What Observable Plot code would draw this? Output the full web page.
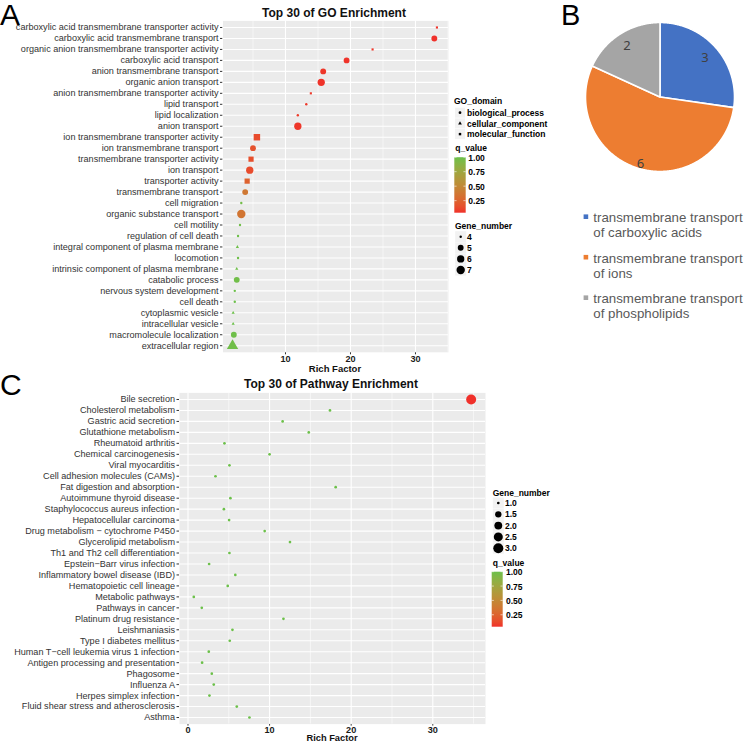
<!DOCTYPE html>
<html><head><meta charset="utf-8">
<script src="https://cdn.jsdelivr.net/npm/d3@7"></script>
<script src="https://cdn.jsdelivr.net/npm/@observablehq/plot@0.6"></script>
<style>
html,body{margin:0;padding:0;background:#fff;}
#root{position:relative;width:746px;height:743px;overflow:hidden;font-family:"Liberation Sans",Arial,Helvetica,sans-serif;}
#root > svg{position:absolute;}
.gg g[aria-label^="x-axis"] text{font-weight:bold;fill:#1a1a1a;}
.gg g[aria-label^="y-axis"] text{fill:#333;}
</style></head><body><div id="root"></div>
<script>
// ---------- Panel A: GO enrichment ----------
const goTerms = [
  "carboxylic acid transmembrane transporter activity",
  "carboxylic acid transmembrane transport",
  "organic anion transmembrane transporter activity",
  "carboxylic acid transport",
  "anion transmembrane transport",
  "organic anion transport",
  "anion transmembrane transporter activity",
  "lipid transport",
  "lipid localization",
  "anion transport",
  "ion transmembrane transporter activity",
  "ion transmembrane transport",
  "transmembrane transporter activity",
  "ion transport",
  "transporter activity",
  "transmembrane transport",
  "cell migration",
  "organic substance transport",
  "cell motility",
  "regulation of cell death",
  "integral component of plasma membrane",
  "locomotion",
  "intrinsic component of plasma membrane",
  "catabolic process",
  "nervous system development",
  "cell death",
  "cytoplasmic vesicle",
  "intracellular vesicle",
  "macromolecule localization",
  "extracellular region"
];
const goRichFactor = [33.3, 32.9, 23.4, 19.4, 15.8, 15.5, 13.9, 13.2, 11.9, 11.9,
  5.6, 5.0, 4.7, 4.5, 4.1, 3.8, 3.2, 3.2, 3.0, 2.7,
  2.6, 2.7, 2.5, 2.5, 2.2, 2.2, 1.95, 1.95, 2.05, 1.85];
const goGeneNumber = [4, 5, 4, 5, 5, 6, 4, 4, 4, 6,
  6, 5, 5, 6, 5, 5, 4, 7, 4, 4,
  4, 4, 4, 5, 4, 4, 4, 4, 5, 7];
const goQValue = [0.05, 0.042, 0.06, 0.05, 0.06, 0.05, 0.07, 0.07, 0.08, 0.06,
  0.13, 0.16, 0.15, 0.13, 0.24, 0.38, 0.97, 0.36, 0.98, 0.99,
  0.99, 0.99, 0.99, 0.98, 1.0, 1.0, 1.0, 1.0, 0.99, 0.98];
const goDomainOf = [
  "molecular_function", "biological_process", "molecular_function", "biological_process", "biological_process",
  "biological_process", "molecular_function", "biological_process", "biological_process", "biological_process",
  "molecular_function", "biological_process", "molecular_function", "biological_process", "molecular_function",
  "biological_process", "biological_process", "biological_process", "biological_process", "biological_process",
  "cellular_component", "biological_process", "cellular_component", "biological_process", "biological_process",
  "biological_process", "cellular_component", "cellular_component", "biological_process", "cellular_component"
];
const goDomains = ["biological_process", "cellular_component", "molecular_function"];
const goGeneBreaks = [4, 5, 6, 7];

// ---------- Panel C: pathway enrichment ----------
const pathTerms = [
  "Bile secretion",
  "Cholesterol metabolism",
  "Gastric acid secretion",
  "Glutathione metabolism",
  "Rheumatoid arthritis",
  "Chemical carcinogenesis",
  "Viral myocarditis",
  "Cell adhesion molecules (CAMs)",
  "Fat digestion and absorption",
  "Autoimmune thyroid disease",
  "Staphylococcus aureus infection",
  "Hepatocellular carcinoma",
  "Drug metabolism − cytochrome P450",
  "Glycerolipid metabolism",
  "Th1 and Th2 cell differentiation",
  "Epstein−Barr virus infection",
  "Inflammatory bowel disease (IBD)",
  "Hematopoietic cell lineage",
  "Metabolic pathways",
  "Pathways in cancer",
  "Platinum drug resistance",
  "Leishmaniasis",
  "Type I diabetes mellitus",
  "Human T−cell leukemia virus 1 infection",
  "Antigen processing and presentation",
  "Phagosome",
  "Influenza A",
  "Herpes simplex infection",
  "Fluid shear stress and atherosclerosis",
  "Asthma"
];
const pathRichFactor = [34.7, 17.4, 11.6, 14.8, 4.47, 10.0, 5.08, 3.37, 18.1, 5.2,
  4.4, 5.04, 9.4, 12.5, 5.08, 2.59, 5.8, 4.87, 0.71, 1.69,
  11.7, 5.45, 5.12, 2.55, 1.73, 2.92, 3.16, 2.63, 5.98, 7.53];
const pathGeneNumber = [3, 1, 1, 1, 1, 1, 1, 1, 1, 1,
  1, 1, 1, 1, 1, 1, 1, 1, 1, 1,
  1, 1, 1, 1, 1, 1, 1, 1, 1, 1];
const pathQValue = [0.042, 1, 1, 1, 1, 1, 1, 1, 1, 1,
  1, 1, 1, 1, 1, 1, 1, 1, 1, 1,
  1, 1, 1, 1, 1, 1, 1, 1, 1, 1];
const pathGeneBreaks = [1.0, 1.5, 2.0, 2.5, 3.0];

// ---------- Panel B: pie ----------
const pieCats = ["transmembrane transport of carboxylic acids", "transmembrane transport of ions", "transmembrane transport of phospholipids"];
const pieLines = [["transmembrane transport", "of carboxylic acids"], ["transmembrane transport", "of ions"], ["transmembrane transport", "of phospholipids"]];
const pieValues = [3, 6, 2];
const pieColors = ["#4472C4", "#ED7D31", "#A5A5A5"];

const qBreaks = [0.25, 0.5, 0.75, 1.0];
const richTicksA = [10, 20, 30];
const richTicksC = [0, 10, 20, 30];
const minorA = [5, 15, 25, 35];
const minorC = [5, 15, 25, 35];

// ---------- shared ----------
const fontFamily = '"Liberation Sans", Arial, Helvetica, sans-serif';
const root = document.getElementById("root");
const qMin = d3.min([...goQValue, ...pathQValue]);
const qDomain = [qMin, 1];
const colorLow = "#F0302A", colorHigh = "#6CC04A";
const qColor = d3.scaleLinear(qDomain, [colorLow, colorHigh]).interpolate(d3.interpolateLab);
const colorOpt = {type: "linear", domain: qDomain, range: [colorLow, colorHigh], interpolate: "lab"};
const place = (el, left, top) => { el.style.position = "absolute"; el.style.left = left + "px"; el.style.top = top + "px"; el.classList.add("gg"); root.appendChild(el); return el; };

// radius helpers (ggplot-like area scaling)
const goR = g => 1 + Math.sqrt((g - 4) / 3);
const goRscale = d3.scaleLinear([1, 2], [1.2, 4.2]);
const pathR = g => 1 + Math.sqrt((g - 1) / 2);
const pathRscale = d3.scaleLinear([1, 2], [1.35, 5.0]);

const goData = goTerms.map((term, i) => ({term, rf: goRichFactor[i], gene: goGeneNumber[i], q: goQValue[i], domain: goDomainOf[i]}));
const pathData = pathTerms.map((term, i) => ({term, rf: pathRichFactor[i], gene: pathGeneNumber[i], q: pathQValue[i]}));

const plotA = Plot.plot({
  width: 450, height: 362,
  marginLeft: 222.5, marginRight: 2, marginTop: 20.4, marginBottom: 10.2,
  style: {fontFamily, fontSize: "9.1px", color: "#333", background: "transparent", overflow: "visible"},
  x: {domain: [0.385, 35.08], ticks: richTicksA, tickSize: 2.5, tickPadding: 0.5, label: null},
  y: {type: "point", domain: goTerms, padding: 0.6, round: false, tickSize: 2.5, tickPadding: 2, label: null},
  color: colorOpt,
  r: {type: "linear", domain: [1, 2], range: [1.2, 4.2]},
  symbol: {domain: goDomains, range: ["circle", "triangle", "square"]},
  marks: [
    Plot.frame({fill: "#EBEBEB"}),
    Plot.ruleX(minorA, {stroke: "white", strokeWidth: 0.55}),
    Plot.ruleX(richTicksA, {stroke: "white", strokeWidth: 1.1}),
    Plot.ruleY(goTerms, {stroke: "white", strokeWidth: 1.1}),
    Plot.dot(goData, {x: "rf", y: "term", r: d => goR(d.gene), fill: "q", symbol: "domain"})
  ]
});
place(plotA, 0, 0);

const plotC = Plot.plot({
  width: 490, height: 363,
  marginLeft: 179, marginRight: 5, marginTop: 12.4, marginBottom: 19.4,
  style: {fontFamily, fontSize: "9.1px", color: "#333", background: "transparent", overflow: "visible"},
  x: {domain: [-1.04, 36.46], ticks: richTicksC, tickSize: 2, tickPadding: 0, label: null},
  y: {type: "point", domain: pathTerms, padding: 0.6, round: false, tickSize: 2.5, tickPadding: 2, label: null},
  color: colorOpt,
  r: {type: "linear", domain: [1, 2], range: [1.35, 5.0]},
  marks: [
    Plot.frame({fill: "#EBEBEB"}),
    Plot.ruleX(minorC, {stroke: "white", strokeWidth: 0.55}),
    Plot.ruleX(richTicksC, {stroke: "white", strokeWidth: 1.1}),
    Plot.ruleY(pathTerms, {stroke: "white", strokeWidth: 1.1}),
    Plot.dot(pathData, {x: "rf", y: "term", r: d => pathR(d.gene), fill: "q"})
  ]
});
place(plotC, 0, 380);

// ---------- pie (Plot.geo with planar identity projection) ----------
const pieArcs = d3.pie().sort(null)(pieValues);
const pieFeatures = pieArcs.map((a, i) => {
  const n = Math.max(4, Math.ceil((a.endAngle - a.startAngle) / 0.01));
  const ring = [[0, 0]];
  for (let k = 0; k <= n; k++) {
    const t = a.startAngle + (a.endAngle - a.startAngle) * k / n;
    ring.push([Math.sin(t), Math.cos(t)]);
  }
  ring.push([0, 0]);
  return {type: "Feature", properties: {name: pieCats[i], value: pieValues[i], mid: (a.startAngle + a.endAngle) / 2, idx: i},
    geometry: {type: "Polygon", coordinates: [ring]}};
});
const pieFC = {type: "FeatureCollection", features: pieFeatures};
const labelR = [0.8, 0.93, 0.82];
const plotB = Plot.plot({
  width: 151, height: 151, margin: 1,
  style: {background: "transparent", overflow: "visible", fontFamily: '"Noto Sans", "Open Sans", sans-serif'},
  projection: {type: () => d3.geoIdentity().reflectY(true), domain: pieFC},
  color: {domain: pieCats, range: pieColors},
  marks: [
    Plot.geo(pieFeatures, {fill: d => d.properties.name, stroke: "white", strokeWidth: 1.6}),
    Plot.text(pieFeatures, {
      x: d => labelR[d.properties.idx] * Math.sin(d.properties.mid),
      y: d => labelR[d.properties.idx] * Math.cos(d.properties.mid),
      text: d => String(d.properties.value), fill: "#404040", fontSize: 13
    })
  ]
});
place(plotB, 584, 21);

// ---------- overlay: letters, titles, legends ----------
const svg = d3.select(root).append("svg")
  .attr("width", 746).attr("height", 743)
  .style("left", "0px").style("top", "0px").style("pointer-events", "none")
  .style("font-family", fontFamily);

const txt = (x, y, s, o = {}) => svg.append("text").attr("x", x).attr("y", y).text(s)
  .attr("font-size", o.size || 9).attr("font-weight", o.weight || "normal")
  .attr("fill", o.fill || "#000").attr("text-anchor", o.anchor || "start")
  .attr("font-family", o.family || null);

// panel letters
txt(0, 25, "A", {size: 30});
txt(561, 25, "B", {size: 29});
txt(0, 395, "C", {size: 30});

// titles & axis labels
txt(334, 16.5, "Top 30 of GO Enrichment", {size: 12, weight: "bold", anchor: "middle", fill: "#111"});
txt(331, 387.5, "Top 30 of Pathway Enrichment", {size: 12, weight: "bold", anchor: "middle", fill: "#111"});
txt(335, 371.5, "Rich Factor", {size: 9.5, weight: "bold", anchor: "middle", fill: "#111"});
txt(332, 741.3, "Rich Factor", {size: 9.3, weight: "bold", anchor: "middle", fill: "#111"});

// gradient
const defs = svg.append("defs");
const grad = defs.append("linearGradient").attr("id", "qgrad").attr("x1", 0).attr("y1", 1).attr("x2", 0).attr("y2", 0);
d3.range(0, 1.0001, 0.05).forEach(t => {
  grad.append("stop").attr("offset", t).attr("stop-color", qColor(qMin + t * (1 - qMin)));
});

function colorbar(x, top, bottom, w, labelX, titleY) {
  txt(x + 1, titleY, "q_value", {size: 8.5, weight: "bold"});
  svg.append("rect").attr("x", x).attr("y", top).attr("width", w).attr("height", bottom - top).attr("fill", "url(#qgrad)");
  const ys = d3.scaleLinear(qDomain, [bottom, top]);
  qBreaks.forEach(q => {
    const y = ys(q);
    svg.append("line").attr("x1", x).attr("x2", x + w / 5).attr("y1", y).attr("y2", y).attr("stroke", "white").attr("stroke-width", 0.6);
    svg.append("line").attr("x1", x + w - w / 5).attr("x2", x + w).attr("y1", y).attr("y2", y).attr("stroke", "white").attr("stroke-width", 0.6);
    txt(labelX, y + 3.6, q.toFixed(2), {size: 8.5, weight: "bold"});
  });
}

function sizeLegend(titleX, titleY, keyX, y0, step, breaks, rOf, labelX, fmt) {
  txt(titleX, titleY, "Gene_number", {size: 8.5, weight: "bold"});
  breaks.forEach((b, i) => {
    const y = y0 + i * step;
    svg.append("rect").attr("x", keyX - 5.5).attr("y", y - 5.5).attr("width", 11).attr("height", 11).attr("fill", "#F2F2F2");
    svg.append("circle").attr("cx", keyX).attr("cy", y).attr("r", rOf(b)).attr("fill", "#000");
    txt(labelX, y + 3.1, fmt(b), {size: 8.5, weight: "bold"});
  });
}

// Legend A: GO_domain
txt(454, 104, "GO_domain", {size: 8.5, weight: "bold"});
const symTypes = [d3.symbolCircle, d3.symbolTriangle, d3.symbolSquare];
goDomains.forEach((dname, i) => {
  const y = 112.7 + i * 10.7;
  svg.append("rect").attr("x", 455).attr("y", y - 5).attr("width", 10).attr("height", 10).attr("fill", "#F2F2F2");
  svg.append("path").attr("d", d3.symbol(symTypes[i], 6)()).attr("transform", `translate(460,${y})`).attr("fill", "#000");
  txt(467, y + 3.1, dname, {size: 8.5, weight: "bold"});
});
colorbar(454.3, 157.2, 212.7, 11.4, 468.3, 151.4);
sizeLegend(455, 229, 460.7, 236.7, 11.1, goGeneBreaks, g => goRscale(goR(g)), 467, b => String(b));

// Legend C
sizeLegend(492.7, 496, 498.3, 503, 11.3, pathGeneBreaks, g => pathRscale(pathR(g)), 505, b => b.toFixed(1));
colorbar(491.7, 571.7, 626.7, 11, 506, 566.4);

// Legend B
pieLines.forEach((lines, i) => {
  const y = 217 + i * 40.5;
  svg.append("rect").attr("x", 583.6).attr("y", y - 2.6).attr("width", 4.6).attr("height", 4.6).attr("fill", pieColors[i]);
  lines.forEach((ln, j) => txt(593.3, y + 5 + j * 15, ln, {size: 13.3, fill: "#595959"}));
});
</script>
</body></html>
